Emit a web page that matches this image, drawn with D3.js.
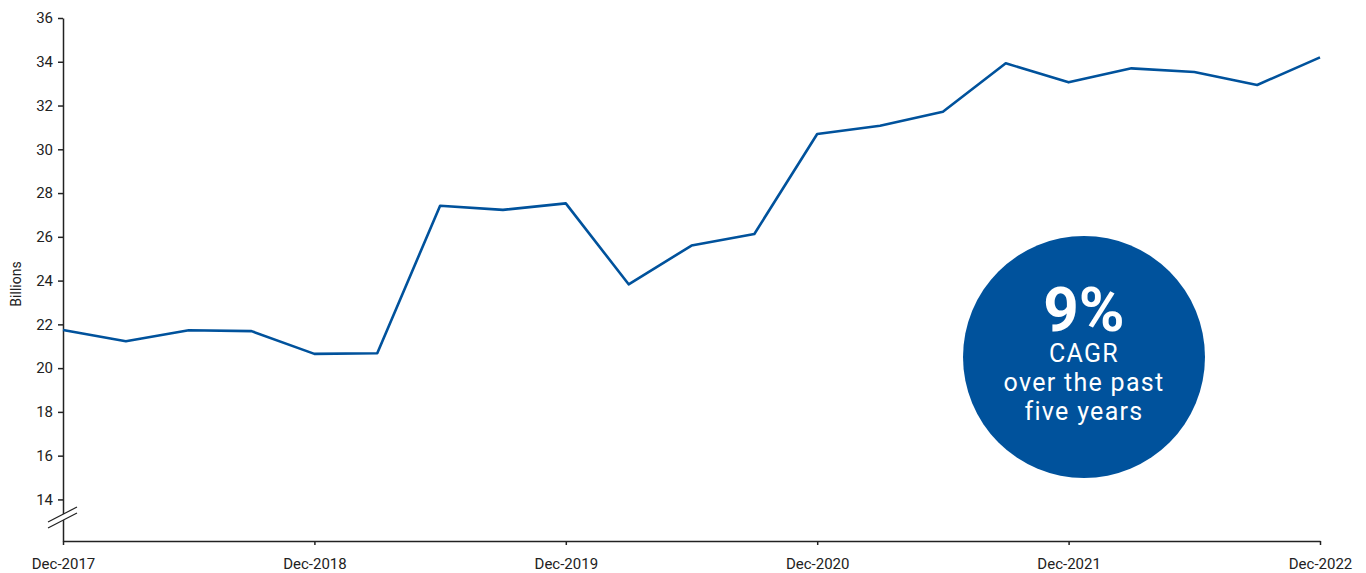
<!DOCTYPE html>
<html>
<head>
<meta charset="utf-8">
<script src="https://cdn.jsdelivr.net/npm/d3@7"></script>
<style>
  body { margin: 0; background: #fff; }
  svg text { font-family: Roboto, "Liberation Sans", sans-serif; }
</style>
</head>
<body>
<svg width="1366" height="573"></svg>
<script>
// quarterly revenue, billions
let quarters = [
  "Dec-2017", "Mar-2018", "Jun-2018", "Sep-2018",
  "Dec-2018", "Mar-2019", "Jun-2019", "Sep-2019",
  "Dec-2019", "Mar-2020", "Jun-2020", "Sep-2020",
  "Dec-2020", "Mar-2021", "Jun-2021", "Sep-2021",
  "Dec-2021", "Mar-2022", "Jun-2022", "Sep-2022",
  "Dec-2022"
];
let values = [
  21.74, 21.23, 21.73, 21.69,
  20.65, 20.68, 27.42, 27.23,
  27.53, 23.83, 25.6, 26.13,
  30.7, 31.08, 31.72, 33.93,
  33.06, 33.7, 33.53, 32.94,
  34.2
];
let xTicks = ["Dec-2017", "Dec-2018", "Dec-2019", "Dec-2020", "Dec-2021", "Dec-2022"];
let yTicks = [14, 16, 18, 20, 22, 24, 26, 28, 30, 32, 34, 36];
let badgeLines = ["CAGR", "over the past", "five years"];
let badgeBig = "9%";

let svg = d3.select("svg");
let blue = "#00529c";

let xScale = d3.scalePoint().domain(quarters).range([63, 1320]);
let yScale = d3.scaleLinear().domain([12.1, 36]).range([541, 18]);

// x axis
let xAxis = svg.append("g")
  .attr("transform", "translate(0, 541)")
  .call(d3.axisBottom(xScale).tickValues(xTicks).tickSize(4).tickSizeOuter(0));
xAxis.select(".domain").attr("stroke", "#222").attr("stroke-width", 1.5);
xAxis.selectAll(".tick line").attr("stroke", "#222").attr("stroke-width", 1.5);
xAxis.selectAll(".tick text")
  .attr("y", 17)
  .attr("font-size", 15)
  .attr("fill", "#222");

// y axis
let yAxis = svg.append("g")
  .attr("transform", "translate(63, 0)")
  .call(d3.axisLeft(yScale).tickValues(yTicks).tickSize(5).tickSizeOuter(0));
yAxis.select(".domain").attr("stroke", "#222").attr("stroke-width", 1.5);
yAxis.selectAll(".tick line").attr("stroke", "#222").attr("stroke-width", 1.5);
yAxis.selectAll(".tick text")
  .attr("x", -10)
  .attr("font-size", 15)
  .attr("fill", "#222");

// axis break marks
svg.append("polygon")
  .attr("points", "48,522 77,507 77,513 48,528")
  .attr("fill", "#fff");
svg.append("line")
  .attr("x1", 48).attr("y1", 522).attr("x2", 77).attr("y2", 507)
  .attr("stroke", "#222").attr("stroke-width", 1.2);
svg.append("line")
  .attr("x1", 48).attr("y1", 528).attr("x2", 77).attr("y2", 513)
  .attr("stroke", "#222").attr("stroke-width", 1.2);

svg.append("text")
  .attr("transform", "translate(21, 284) rotate(-90)")
  .attr("text-anchor", "middle")
  .attr("font-size", 14)
  .attr("fill", "#222")
  .text("Billions");

// the line
let line = d3.line()
  .x(function (d, i) { return xScale(quarters[i]); })
  .y(function (d) { return yScale(d); });

svg.append("path")
  .datum(values)
  .attr("d", line)
  .attr("fill", "none")
  .attr("stroke", blue)
  .attr("stroke-width", 2.6)
  .attr("stroke-linejoin", "round");

// CAGR badge
let badge = svg.append("g").attr("transform", "translate(1084, 357)");
badge.append("circle").attr("r", 121).attr("fill", blue);
badge.append("text")
  .attr("y", -26)
  .attr("text-anchor", "middle")
  .attr("font-size", 62)
  .attr("font-weight", "bold")
  .attr("fill", "#fff")
  .text(badgeBig);
badge.selectAll(".sub")
  .data(badgeLines)
  .enter()
  .append("text")
  .attr("class", "sub")
  .attr("y", function (d, i) { return 5 + i * 29; })
  .attr("text-anchor", "middle")
  .attr("font-size", 25)
  .attr("letter-spacing", "1.3px")
  .attr("fill", "#fff")
  .text(function (d) { return d; });
</script>
</body>
</html>
